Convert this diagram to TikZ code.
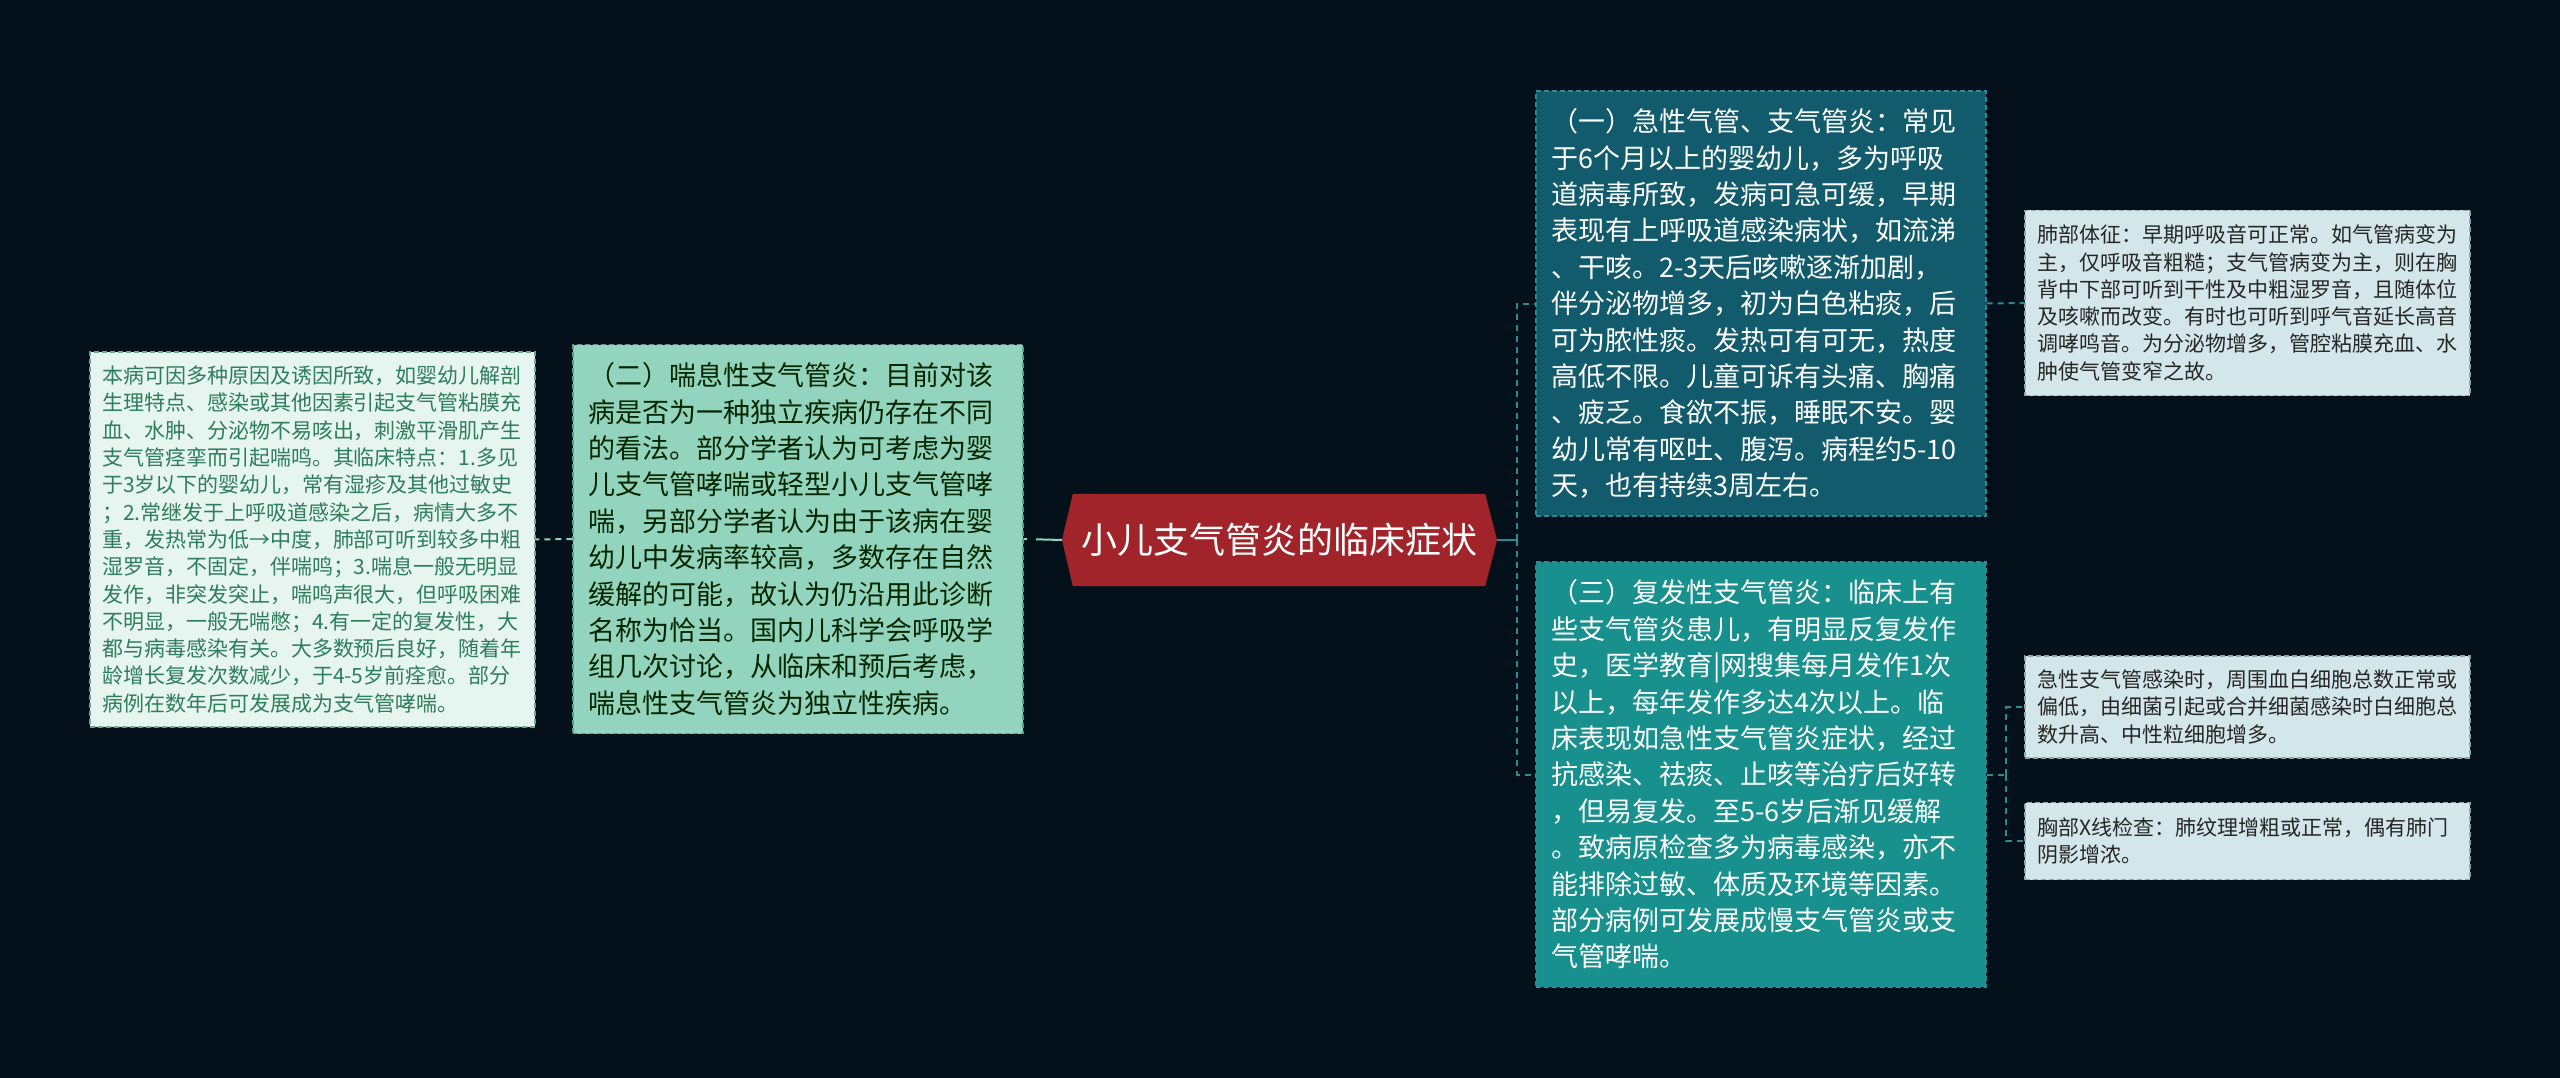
\documentclass[tikz,border=0pt]{standalone}
\usepackage{fontspec}
\setmainfont{Noto Sans CJK SC}
\usetikzlibrary{backgrounds}
\definecolor{bgc}{HTML}{04101A}
\definecolor{redc}{HTML}{A1242B}
\definecolor{lonefill}{HTML}{92D4BD}
\definecolor{lonedraw}{HTML}{5E9E88}
\definecolor{ltwofill}{HTML}{E6F5F0}
\definecolor{ltwodraw}{HTML}{6FA58F}
\definecolor{ltwotext}{HTML}{2E7D5C}
\definecolor{ronefill}{HTML}{115B6C}
\definecolor{rtwofill}{HTML}{17908E}
\definecolor{rdraw}{HTML}{2C8A96}
\definecolor{smallfill}{HTML}{D3E6EA}
\definecolor{smalldraw}{HTML}{8FA7AC}
\definecolor{lconn}{HTML}{8FD3BB}
\definecolor{rconn}{HTML}{2C8A96}
\tikzset{
  box/.style={rectangle, inner sep=0pt, line width=1.4pt, dash pattern=on 5pt off 3pt, align=left},
  bigtext/.style={font=\fontsize{27}{36.4}\selectfont, text width=420pt},
  smalltext/.style={font=\fontsize{21}{27.3}\selectfont, text width=421pt},
  rline/.style={rconn, line width=2pt, dash pattern=on 6pt off 5pt},
  lline/.style={lconn, line width=2pt, dash pattern=on 6pt off 5pt},
}
\begin{document}
\begin{tikzpicture}[x=1pt,y=-1pt]
\useasboundingbox (0,0) rectangle (2560,1078);

% centre
\node[inner sep=0pt, minimum width=412pt, minimum height=92pt, text=white, font=\fontsize{36}{40}\selectfont] (C) at (1279,540) {小儿支气管炎的临床症状};
\coordinate (CL) at (1062,540);
\coordinate (CR) at (1497,540);
\begin{scope}[on background layer]
\fill[bgc] (0,0) rectangle (2560,1078);
\fill[redc] (C.north west) -- (C.north east) -- (CR) -- (C.south east) -- (C.south west) -- (CL) -- cycle;
\end{scope}

% left
\node[box, bigtext, fill=lonefill, draw=lonedraw, text=black!85!green, minimum width=450pt, minimum height=389pt] (L1) at (798,539) {%
（二）喘息性支气管炎：目前对该\\
病是否为一种独立疾病仍存在不同\\
的看法。部分学者认为可考虑为婴\\
儿支气管哮喘或轻型小儿支气管哮\\
喘，另部分学者认为由于该病在婴\\
幼儿中发病率较高，多数存在自然\\
缓解的可能，故认为仍沿用此诊断\\
名称为恰当。国内儿科学会呼吸学\\
组几次讨论，从临床和预后考虑，\\
喘息性支气管炎为独立性疾病。};

\node[box, smalltext, fill=ltwofill, draw=ltwodraw, text=ltwotext, minimum width=445pt, minimum height=375pt] (L2) at (312.5,539.5) {%
本病可因多种原因及诱因所致，如婴幼儿解剖\\
生理特点、感染或其他因素引起支气管粘膜充\\
血、水肿、分泌物不易咳出，刺激平滑肌产生\\
支气管痉挛而引起喘鸣。其临床特点：1.多见\\
于3岁以下的婴幼儿，常有湿疹及其他过敏史\\
；2.常继发于上呼吸道感染之后，病情大多不\\
重，发热常为低→中度，肺部可听到较多中粗\\
湿罗音，不固定，伴喘鸣；3.喘息一般无明显\\
发作，非突发突止，喘鸣声很大，但呼吸困难\\
不明显，一般无喘憋；4.有一定的复发性，大\\
都与病毒感染有关。大多数预后良好，随着年\\
龄增长复发次数减少，于4-5岁前痊愈。部分\\
病例在数年后可发展成为支气管哮喘。};

% right
\node[box, bigtext, fill=ronefill, draw=rdraw, text=white, minimum width=450pt, minimum height=425pt] (R1) at (1761,303.5) {%
（一）急性气管、支气管炎：常见\\
于6个月以上的婴幼儿，多为呼吸\\
道病毒所致，发病可急可缓，早期\\
表现有上呼吸道感染病状，如流涕\\
、干咳。2-3天后咳嗽逐渐加剧，\\
伴分泌物增多，初为白色粘痰，后\\
可为脓性痰。发热可有可无，热度\\
高低不限。儿童可诉有头痛、胸痛\\
、疲乏。食欲不振，睡眠不安。婴\\
幼儿常有呕吐、腹泻。病程约5-10\\
天，也有持续3周左右。};

\node[box, bigtext, fill=rtwofill, draw=rdraw, text=white, minimum width=450pt, minimum height=425pt] (R2) at (1761,774.5) {%
（三）复发性支气管炎：临床上有\\
些支气管炎患儿，有明显反复发作\\
史，医学教育|网搜集每月发作1次\\
以上，每年发作多达4次以上。临\\
床表现如急性支气管炎症状，经过\\
抗感染、祛痰、止咳等治疗后好转\\
，但易复发。至5-6岁后渐见缓解\\
。致病原检查多为病毒感染，亦不\\
能排除过敏、体质及环境等因素。\\
部分病例可发展成慢支气管炎或支\\
气管哮喘。};

\node[box, smalltext, fill=smallfill, draw=smalldraw, text=black!85, minimum width=445pt, minimum height=185pt] (RA) at (2247.5,303) {%
肺部体征：早期呼吸音可正常。如气管病变为\\
主，仅呼吸音粗糙；支气管病变为主，则在胸\\
背中下部可听到干性及中粗湿罗音，且随体位\\
及咳嗽而改变。有时也可听到呼气音延长高音\\
调哮鸣音。为分泌物增多，管腔粘膜充血、水\\
肿使气管变窄之故。};

\node[box, smalltext, fill=smallfill, draw=smalldraw, text=black!85, minimum width=445pt, minimum height=102pt] (RB1) at (2247.5,707) {%
急性支气管感染时，周围血白细胞总数正常或\\
偏低，由细菌引起或合并细菌感染时白细胞总\\
数升高、中性粒细胞增多。};

\node[box, smalltext, fill=smallfill, draw=smalldraw, text=black!85, minimum width=445pt, minimum height=77pt] (RB2) at (2247.5,841) {%
胸部X线检查：肺纹理增粗或正常，偶有肺门\\
阴影增浓。};

% connectors
\coordinate (J) at (1517,540);
\coordinate (J2) at (2006,774.5);
\draw[lconn, line width=2pt, dash pattern=on 26pt off 9pt] (CL) -- (L1.east);
\draw[lline] (L1.west) -- (L2.east);
\draw[rconn, line width=2pt] (CR) -- (J);
\draw[rline] (J) |- (R1.west);
\draw[rline] (J) |- (R2.west);
\draw[rline] (R1.east) -- (RA.west);
\draw[rline] (R2.east) -- (J2);
\draw[rline] (J2) |- (RB1.west);
\draw[rline] (J2) |- (RB2.west);
\end{tikzpicture}
\end{document}
